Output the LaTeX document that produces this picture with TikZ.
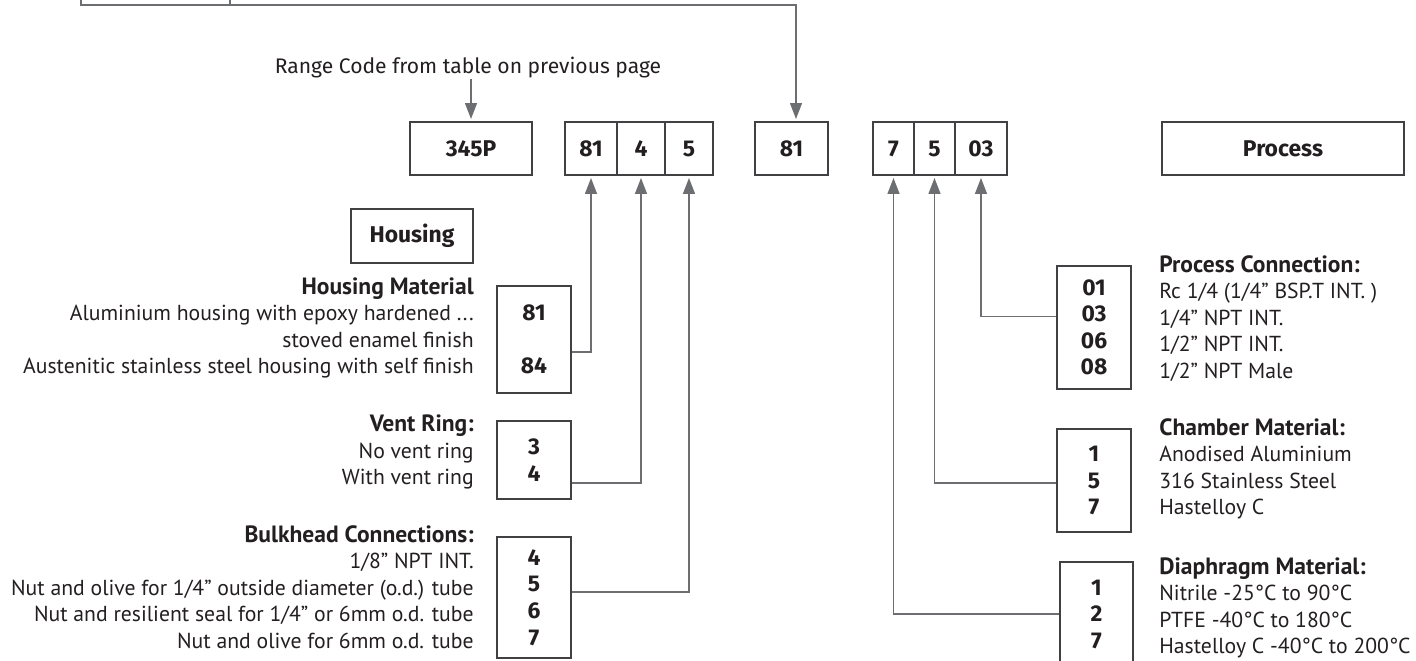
\documentclass[tikz,border=0pt]{standalone}
\usepackage{fontspec}
\setmainfont{PT Sans}
\newfontfamily\codefont{Fira Sans}
\usepackage{tikz}
\usetikzlibrary{arrows.meta, calc, positioning}
\definecolor{linegray}{HTML}{6D6E71}
\definecolor{boxgray}{HTML}{414042}
\definecolor{inkgray}{HTML}{231F20}
\newcommand{\heading}[1]{{\fontsize{13.4}{15.1}\selectfont\bfseries #1}}

\begin{document}
\begin{tikzpicture}[x=0.02cm, y=-0.02cm]
\tikzstyle{code} = [rectangle, draw=boxgray, line width=0.8pt, outer sep=0pt, inner sep=0pt, minimum height=1.06cm, text centered, text=inkgray, font=\codefont\bfseries\fontsize{13}{15}\selectfont]
\tikzstyle{option} = [rectangle, draw=boxgray, line width=0.8pt, minimum width=1.48cm, align=center, text=inkgray, font=\codefont\bfseries\fontsize{13}{15.1}\selectfont]
\tikzstyle{desc} = [inner sep=0pt, text=inkgray, font=\fontsize{12.35}{15.1}\selectfont]
\tikzstyle{wire} = [line width=0.8pt, draw=linegray]
\tikzstyle{arrow} = [line width=0.8pt, draw=linegray, -{Triangle[width=0.24cm,length=0.32cm]}, shorten >=0.06cm]

\useasboundingbox (0,0) rectangle (1416,661);
\clip (0,0) rectangle (1416,661);

% Code Boxes
\node (code) [code, minimum width=2.44cm] at (471,148.5) {345P};
\node (hm) [code, minimum width=1.04cm] at (591,148.5) {81};
\node (vr) [code, minimum width=0.96cm, right=0pt of hm] {4};
\node (bh) [code, minimum width=0.96cm, right=0pt of vr] {5};
\node (gauge) [code, minimum width=1.46cm] at (791.5,148.5) {81};
\node (dm) [code, minimum width=0.82cm] at (893.5,148.5) {7};
\node (cm) [code, minimum width=0.82cm, right=0pt of dm] {5};
\node (pc) [code, minimum width=1.04cm, right=0pt of cm] {03};
\node (proc) [code, minimum width=4.84cm] at (1283,148.5) {Process};
\node (housing) [code, minimum width=2.44cm, minimum height=1.08cm] at (412,236) {Housing};

% Range Code
\node (range) [desc, font=\codefont\fontsize{12}{14}\selectfont] at (468,68) {Range Code from table on previous page};
\draw [arrow] (range.south -| code.north) -- (code.north);

% Line from the table above
\draw [wire] (81,0) |- (230,5) -- (230,0);
\coordinate (prevcell) at (230,5);
\draw [arrow] (prevcell) -| ([xshift=0.09cm]gauge.north);

% Housing Options
\node (hmtext) [desc, align=right, anchor=east] at (474,328) {\heading{Housing Material}\\Aluminium housing with epoxy hardened ...\\stoved enamel finish\\Austenitic stainless steel housing with self finish};
\node (hmcodes) [option, minimum height=2.14cm] at (534,339.5) {81\\[15.1pt]84};
\node (vrtext) [desc, align=right, anchor=east] at (474,452) {\heading{Vent Ring:}\\No vent ring\\With vent ring};
\node (vrcodes) [option, minimum height=1.56cm] at (534,460) {3\\4};
\node (bhtext) [desc, align=right, anchor=east] at (474,587) {\heading{Bulkhead Connections:}\\1/8” NPT INT.\\Nut and olive for 1/4” outside diameter (o.d.) tube\\Nut and resilient seal for 1/4” or 6mm o.d. tube\\Nut and olive for 6mm o.d. tube};
\node (bhcodes) [option, minimum height=2.42cm] at (534,597.5) {4\\5\\6\\7};

% Process Options
\node (pctext) [desc, align=left, anchor=west] at (1159,318.5) {\heading{Process Connection:}\\Rc 1/4 (1/4” BSP.T INT. )\\1/4” NPT INT.\\1/2” NPT INT.\\1/2” NPT Male};
\node (pccodes) [option, minimum height=2.46cm] at (1094,327.5) {01\\03\\06\\08};
\node (cmtext) [desc, align=left, anchor=west] at (1159,469) {\heading{Chamber Material:}\\Anodised Aluminium\\316 Stainless Steel\\Hastelloy C};
\node (cmcodes) [option, minimum height=2.06cm] at (1094,480.5) {1\\5\\7};
\node (dmtext) [desc, align=left, anchor=west] at (1159,608) {\heading{Diaphragm Material:}\\Nitrile -25°C to 90°C\\PTFE -40°C to 180°C\\Hastelloy C -40°C to 200°C};
\node (dmcodes) [option, minimum width=1.46cm, minimum height=2.08cm] at (1096.5,614) {1\\2\\7};

% Option Arrows
\draw [arrow] ($(hmcodes.east)+(0,12.5)$) -| (hm.south);
\draw [arrow] ($(vrcodes.east)+(0,23)$) -| (vr.south);
\draw [arrow] ($(bhcodes.east)+(0,-5.5)$) -| (bh.south);
\draw [arrow] ($(pccodes.west)+(0,-11)$) -| (pc.south);
\draw [arrow] ($(cmcodes.west)+(0,2.5)$) -| (cm.south);
\draw [arrow] (dmcodes.west) -| (dm.south);

\end{tikzpicture}
\end{document}
